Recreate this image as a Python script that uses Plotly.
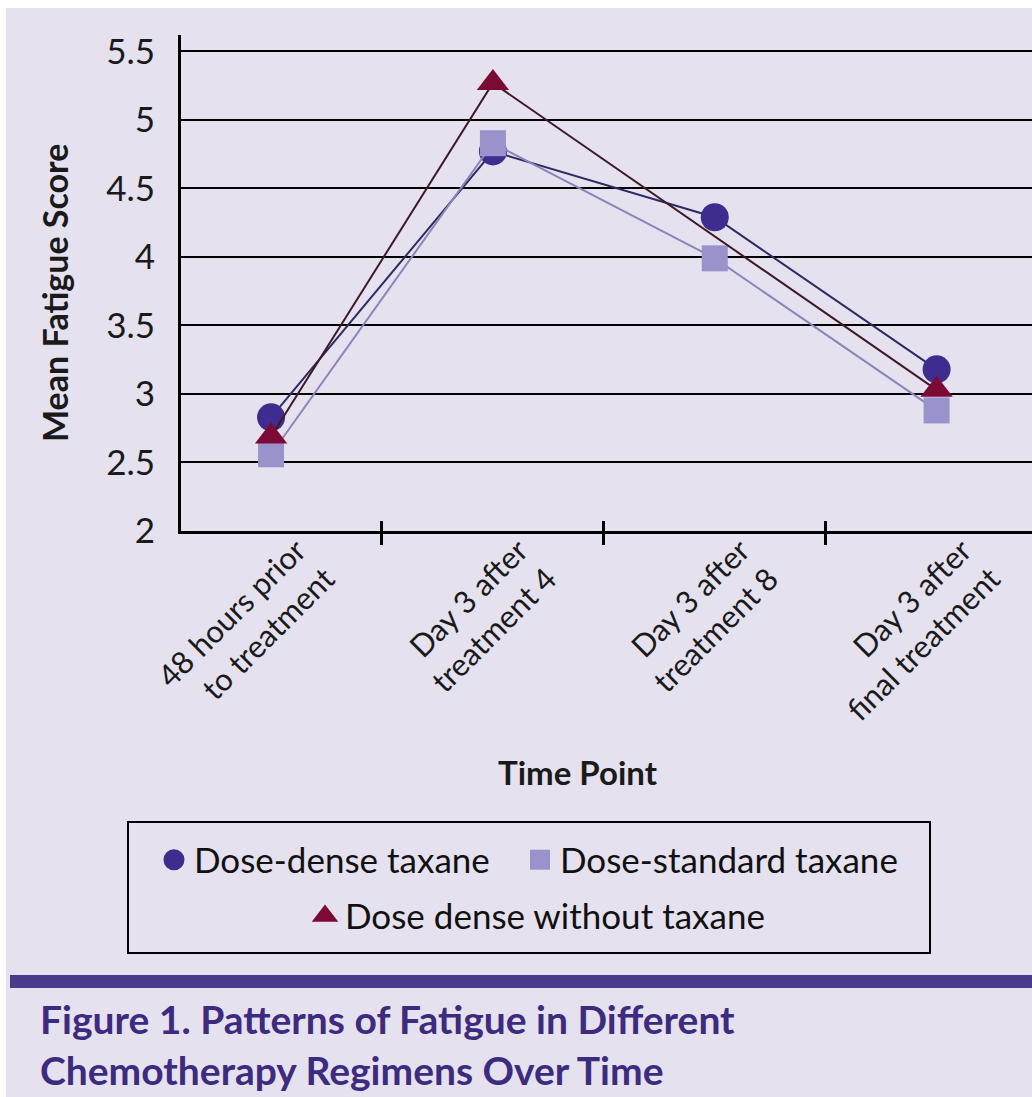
import plotly.graph_objects as go

# Time points (x categories)
time_points = [
    "48 hours prior<br>to treatment",
    "Day 3 after<br>treatment 4",
    "Day 3 after<br>treatment 8",
    "Day 3 after<br>final treatment",
]

# Mean fatigue score by regimen
dose_dense_taxane = [2.83, 4.77, 4.29, 3.18]
dose_standard_taxane = [2.56, 4.83, 3.99, 2.88]
dose_dense_no_taxane = [2.69, 5.27, None, 3.03]

series_names = ["Dose-dense taxane", "Dose-standard taxane", "Dose dense without taxane"]

y_ticks = [2, 2.5, 3, 3.5, 4, 4.5, 5, 5.5]
y_tick_text = ["2", "2.5", "3", "3.5", "4", "4.5", "5", "5.5"]

BG = "#E5E1EF"
FONT = "Lato"

# Plot-area pixel geometry (for paper-coordinate conversions)
W, H = 1032, 1097
L, R, T, B = 181, 0, 35, 566
PW = W - L - R
PH = H - T - B


def px(x):
    return (x - L) / PW


def py(y):
    return (H - B - y) / PH


styles = [
    dict(symbol="circle", color="#3E2C8E", line="#2E2A62", size=28, leg_lw=5),
    dict(symbol="square", color="#9A92CB", line="#8A85B8", size=26, leg_lw=4),
    dict(symbol="triangle-up", color="#7B0B35", line="#3C1A26", size=28, leg_lw=4),
]
values = [dose_dense_taxane, dose_standard_taxane, dose_dense_no_taxane]
legend_ids = ["legend", "legend2", "legend3"]

fig = go.Figure()

for name, vals, st in zip(series_names, values, styles):
    fig.add_trace(go.Scatter(
        x=time_points, y=vals, mode="lines+markers", name=name,
        connectgaps=True, showlegend=False,
        line=dict(color=st["line"], width=2),
        marker=dict(symbol=st["symbol"], color=st["color"], size=st["size"]),
    ))

# Legend entries (markers only)
for name, st, lg in zip(series_names, styles, legend_ids):
    fig.add_trace(go.Scatter(
        x=[None], y=[None], mode="markers", name=name, legend=lg,
        marker=dict(symbol=st["symbol"], color=st["color"], size=16,
                    line=dict(color=st["color"], width=st["leg_lw"])),
    ))

# Invisible trace carrying the overlay axis (inner halves of the x tick marks)
fig.add_trace(go.Scatter(
    x=time_points, y=[None] * len(time_points), xaxis="x2", yaxis="y",
    mode="markers", showlegend=False, hoverinfo="skip",
))

xr = [-0.406, 3.43]
leg_font = dict(size=35, family=FONT, color="#111111")


def leg(x, y):
    return dict(orientation="h", x=px(x), y=py(y), xanchor="left", yanchor="middle",
                bgcolor="rgba(0,0,0,0)", font=leg_font, itemsizing="trace", itemwidth=30)


fig.update_layout(
    width=W, height=H,
    margin=dict(l=L, r=R, t=T, b=B),
    paper_bgcolor="white",
    plot_bgcolor=BG,
    font=dict(family=FONT, color="#111111"),
    xaxis=dict(
        type="category", range=xr, tickson="boundaries",
        ticks="outside", ticklen=11, tickwidth=3, tickcolor="black",
        showline=True, linecolor="black", linewidth=3,
        showgrid=False, zeroline=False,
        tickangle=-45, ticklabelshift=26, ticklabelstandoff=-14,
        tickfont=dict(size=31, family=FONT, color="#1a1a1a"),
    ),
    xaxis2=dict(
        type="category", range=xr, tickson="boundaries", overlaying="x",
        anchor="y", side="bottom",
        ticks="inside", ticklen=10, tickwidth=3, tickcolor="black",
        showticklabels=False, showgrid=False, showline=False, zeroline=False,
    ),
    yaxis=dict(
        range=[2, 5.62], tickvals=y_ticks, ticktext=y_tick_text,
        showline=True, linecolor="black", linewidth=3,
        showgrid=True, gridcolor="black", gridwidth=2,
        zeroline=False, ticks="", ticklabelstandoff=16,
        tickfont=dict(size=35, family=FONT, color="#1a1a1a"),
    ),
    legend=leg(154, 860),
    legend2=leg(520, 860),
    legend3=leg(305, 916),
    shapes=[
        # page background
        dict(type="rect", xref="paper", yref="paper", layer="below",
             x0=px(6), x1=px(W), y0=py(H), y1=py(8),
             fillcolor=BG, line=dict(width=0)),
        # legend frame
        dict(type="rect", xref="paper", yref="paper",
             x0=px(128), x1=px(930), y0=py(953), y1=py(822),
             line=dict(color="black", width=2), fillcolor="rgba(0,0,0,0)"),
        # rule above caption
        dict(type="rect", xref="paper", yref="paper",
             x0=px(10), x1=px(W), y0=py(988), y1=py(975),
             fillcolor="#4A3A8C", line=dict(width=0)),
    ],
    annotations=[
        dict(text="<b>Mean Fatigue Score</b>", textangle=-90,
             xref="paper", yref="paper", x=px(54), y=py(293),
             xanchor="center", yanchor="middle", showarrow=False,
             font=dict(size=34, family=FONT, color="#1a1a1a")),
        dict(text="<b>Time Point</b>",
             xref="paper", yref="paper", x=px(578), y=py(772),
             xanchor="center", yanchor="middle", showarrow=False,
             font=dict(size=33, family=FONT, color="#1a1a1a")),
        dict(text="<b>Figure 1. Patterns of Fatigue in Different<br>"
                  "Chemotherapy Regimens Over Time</b>",
             xref="paper", yref="paper", x=px(38), y=py(1044),
             xanchor="left", yanchor="middle", align="left", showarrow=False,
             font=dict(size=39, family=FONT, color="#3C2B7E")),
    ],
)

fig.write_html("out.html")
